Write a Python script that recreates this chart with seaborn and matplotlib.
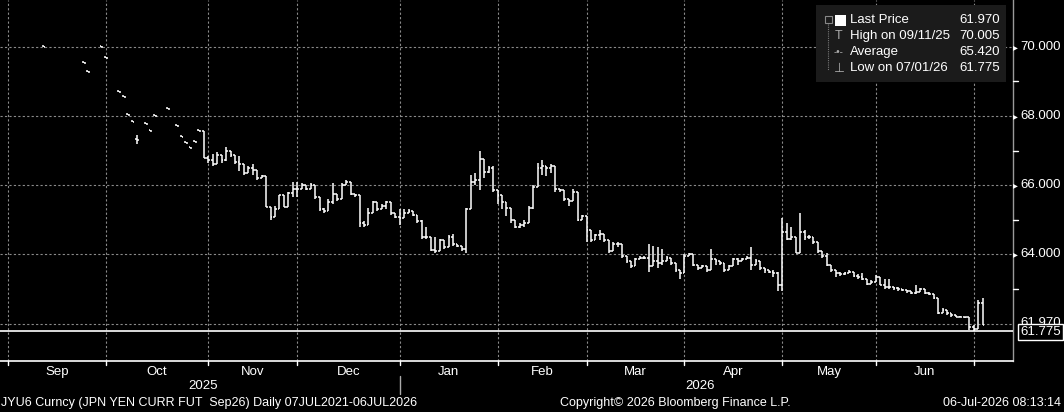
import numpy as np
import pandas as pd
import matplotlib
matplotlib.use("Agg")
import matplotlib.pyplot as plt
import seaborn as sns

nan = np.nan
# ---- data (business days Sep-2025 .. Jul-2026) ----
sep_close = [nan]*8 + [70.0] + [nan]*8 + [69.53, 69.27, nan, nan, 70.0]
oct_close = [69.67, nan, nan, 68.69, 68.54, 68.03, 67.82, 67.3, nan, 67.77, 67.56, 68.0, nan, nan,
             68.21, nan, 67.71, 67.4, 67.22, 67.07, 67.25, 67.55, 66.78]
nov_close = [66.73, 66.6, 66.87, 66.73, 67.0, 66.87, 66.67, 66.6, 66.35, 66.5, 66.45, 66.2, 66.25,
             65.37, 65.07, 65.32, 65.7, 65.38, 65.77, 65.9]
nov_high = [66.85, 66.9, 66.95, 66.8, 67.1, 66.95, 66.75, 66.85, 66.6, 66.55, 66.6, 66.3, 66.3,
            66.05, 65.3, 65.4, 65.7, 65.4, 65.8, 66.1]
nov_low = [66.65, 66.55, 66.8, 66.65, 66.7, 66.8, 66.6, 66.4, 66.3, 66.45, 66.3, 66.15, 66.2,
           65.37, 65.0, 65.3, 65.7, 65.38, 65.77, 65.65]
dec_close = [65.9, 66.0, 65.88, 66.0, 65.65, 65.3, 65.25, 65.5, 65.75, 65.6, 66.0, 66.1, 65.75, 65.7,
             64.9, 64.85, 65.2, 65.5, 65.3, 65.4, 65.5, 65.2, 65.08]
dec_high = [66.1, 66.05, 65.95, 66.05, 65.7, 65.35, 65.35, 65.6, 66.05, 65.65, 66.05, 66.15, 66.05, 65.75,
            65.7, 64.95, 65.35, 65.55, 65.45, 65.45, 65.55, 65.35, 65.1]
dec_low = [65.65, 65.95, 65.85, 65.95, 65.6, 65.25, 65.2, 65.3, 65.45, 65.55, 65.95, 66.05, 65.7, 65.65,
           64.8, 64.8, 65.1, 65.45, 65.25, 65.35, 65.3, 65.15, 65.05]
jan_close = [65.05, 65.2, 65.25, 65.15, 64.95, 64.5, 64.5, 64.13, 64.1, 64.4, 64.2, 64.5, 64.3, 64.25,
             64.15, 65.3, 66.08, 66.15, 66.75, 66.38, 66.5, 65.85]
jan_high = [65.3, 65.3, 65.3, 65.25, 65.05, 65.0, 64.8, 64.3, 64.5, 64.45, 64.4, 64.55, 64.6, 64.3,
            64.25, 65.35, 66.3, 66.35, 67.0, 66.6, 66.55, 66.55]
jan_low = [64.85, 65.15, 65.2, 65.1, 64.9, 64.45, 64.45, 64.1, 64.05, 64.35, 64.15, 64.2, 64.25, 64.2,
           64.1, 64.05, 65.7, 66.0, 65.85, 66.2, 66.35, 65.8]
feb_close = [65.7, 65.5, 65.35, 65.0, 64.8, 64.85, 64.9, 65.35, 65.95, 66.5, 66.55, 66.5, 66.55, 65.9,
             65.85, 65.6, 65.55, 65.8, 65.0, 65.1]
feb_high = [65.85, 65.55, 65.4, 65.35, 64.9, 64.9, 65.0, 65.4, 66.0, 66.65, 66.72, 66.55, 66.6, 66.4,
            65.9, 65.65, 65.6, 65.9, 65.8, 65.15]
feb_low = [65.45, 65.3, 65.1, 64.9, 64.75, 64.75, 64.8, 65.3, 65.3, 65.95, 66.3, 66.25, 66.35, 65.8,
           65.8, 65.55, 65.4, 65.7, 64.95, 65.05]
mar_close = [64.7, 64.4, 64.55, 64.6, 64.4, 64.1, 64.3, 64.3, 63.95, 63.8, 63.65, 63.85, 63.9, 63.9,
             63.65, 63.8, 63.75, 63.8, 63.9, 63.75, 63.55, 63.45]
mar_high = [64.75, 64.45, 64.6, 64.7, 64.45, 64.4, 64.35, 64.35, 64.0, 63.85, 63.75, 63.9, 63.95, 63.95,
            64.3, 64.25, 64.2, 64.15, 63.95, 63.8, 63.6, 63.55]
mar_low = [64.35, 64.35, 64.45, 64.4, 64.35, 64.05, 64.25, 64.2, 63.9, 63.75, 63.6, 63.8, 63.85, 63.85,
           63.5, 63.7, 63.6, 63.7, 63.8, 63.7, 63.5, 63.3]
apr_close = [63.95, 64.0, 63.7, 63.6, 63.65, 63.55, 63.85, 63.8, 63.75, 63.55, 63.65, 63.85, 63.8, 63.85,
             63.9, 63.7, 63.8, 63.6, 63.55, 63.5, 63.45, 63.1]
apr_high = [64.0, 64.05, 63.95, 63.7, 63.7, 63.6, 64.15, 63.85, 63.8, 63.65, 63.7, 63.9, 63.9, 63.9,
            63.95, 64.2, 63.85, 63.7, 63.6, 63.55, 63.55, 63.5]
apr_low = [63.7, 63.95, 63.65, 63.55, 63.6, 63.5, 63.55, 63.7, 63.7, 63.5, 63.55, 63.75, 63.7, 63.8,
           63.85, 63.55, 63.7, 63.55, 63.45, 63.45, 63.35, 62.95]
may_close = [64.65, 64.45, 64.5, 64.03, 64.65, 64.5, 64.5, 64.35, 64.1, 63.95, 63.7, 63.55, 63.45, 63.42,
             63.45, 63.5, 63.38, 63.35, 63.3, 63.15, 63.2]
may_high = [65.05, 64.9, 64.8, 64.45, 65.2, 64.7, 64.55, 64.45, 64.3, 64.0, 64.05, 63.65, 63.55, 63.5,
            63.5, 63.55, 63.45, 63.42, 63.45, 63.3, 63.25]
may_low = [62.95, 64.4, 64.4, 64.03, 64.03, 64.4, 64.45, 64.3, 64.05, 63.9, 63.65, 63.5, 63.35, 63.38,
           63.4, 63.45, 63.33, 63.3, 63.25, 63.1, 63.15]
jun_close = [63.35, 63.1, 63.05, 63.05, 63.03, 63.0, 62.97, 62.93, 62.88, 62.9, 63.0, 62.88, 62.85, 62.75,
             62.3, 62.4, 62.3, 62.25, 62.2, 62.2, 62.18, 61.9]
jun_high = [63.4, 63.35, 63.3, 63.3, 63.05, 63.05, 63.0, 62.97, 62.93, 63.12, 63.02, 63.0, 62.9, 62.85,
            62.75, 62.45, 62.4, 62.3, 62.25, 62.22, 62.2, 62.2]
jun_low = [63.3, 63.1, 63.0, 63.0, 62.98, 62.95, 62.93, 62.88, 62.85, 62.85, 62.95, 62.85, 62.82, 62.7,
           62.28, 62.3, 62.25, 62.2, 62.18, 62.18, 62.15, 61.8]
jul_close = [61.85, 62.6, 61.97]
jul_high = [61.95, 62.68, 62.75]
jul_low = [61.775, 61.85, 61.97]

month_names = ["Sep", "Oct", "Nov", "Dec", "Jan", "Feb", "Mar", "Apr", "May", "Jun"]
yticks = [62, 64, 66, 68, 70]
last_price, high_val, avg_val, low_val = 61.970, 70.005, 65.420, 61.775

# ---- assemble ----
closes = sep_close + oct_close + nov_close + dec_close + jan_close + feb_close + mar_close + apr_close + may_close + jun_close + jul_close
highs = sep_close + [v if v != 67.3 else 67.45 for v in oct_close] + nov_high + dec_high + jan_high + feb_high + mar_high + apr_high + may_high + jun_high + jul_high
lows = sep_close + [v if v != 67.3 else 67.2 for v in oct_close] + nov_low + dec_low + jan_low + feb_low + mar_low + apr_low + may_low + jun_low + jul_low
dates = pd.bdate_range("2025-09-01", periods=len(closes))
df = pd.DataFrame({"date": dates, "close": closes, "high": highs, "low": lows})
df["idx"] = np.arange(len(df))
sparse_end = len(sep_close) + len(oct_close) - 1
prev = df["close"].shift(1)
df["open"] = np.where(prev.notna() & (df["idx"] >= sparse_end), prev, df["close"])
df.loc[df["idx"] < sparse_end, "open"] = df["close"] + 0.03
df = df.dropna(subset=["close"])
df["high"] = df[["high", "open", "close"]].max(axis=1)
df["low"] = df[["low", "open", "close"]].min(axis=1)

sns.set_theme(style="dark", rc={"axes.facecolor": "black", "figure.facecolor": "black"})
plt.rcParams["font.family"] = ["Liberation Sans", "DejaVu Sans"]

W, H = 1064, 412
fig = plt.figure(figsize=(W / 100, H / 100), dpi=100)
ax = fig.add_axes([0, 51 / H, 1013 / W, 361 / H])
ax.set_facecolor("black")

ppu = 34.6
ax.set_ylim(70 - 314.3 / ppu, 70 + 46.7 / ppu)
px_per_bar = 4.45
ax.set_xlim(-8 / px_per_bar, (1013 - 8) / px_per_bar)

# grid
allidx = pd.Series(np.arange(len(dates)), index=dates)
month_starts = allidx.groupby([dates.year, dates.month]).min().values
for m in month_starts:
    ax.axvline(m, color="#8a8a8a", lw=0.8, ls=(0, (2, 2)), zorder=1)
for yv in yticks:
    ax.axhline(yv, color="#8a8a8a", lw=0.8, ls=(0, (2, 2)), zorder=1)

# OHLC bars
tk = 0.42
ax.vlines(df["idx"], df["low"], df["high"], color="white", lw=1.1, zorder=3)
ax.hlines(df["open"], df["idx"] - tk, df["idx"], color="white", lw=1.1, zorder=3)
ax.hlines(df["close"], df["idx"], df["idx"] + tk, color="white", lw=1.1, zorder=3)

ax.axhline(low_val, color="white", lw=1.2, zorder=4)

ax.set_xticks([]); ax.set_yticks([])
for s in ["top", "left"]:
    ax.spines[s].set_visible(False)
ax.spines["bottom"].set_color("white"); ax.spines["bottom"].set_linewidth(1.2)
ax.spines["right"].set_color("#9a9a9a"); ax.spines["right"].set_linewidth(1.0)

def fx(x): return x / W
def fy(y): return 1 - y / H
def ypix(v): return 46.7 + (70 - v) * ppu

FS = 9.5
# right axis labels
for yv in yticks[1:]:
    yp = ypix(yv)
    fig.text(fx(1013), fy(yp), "\u25B8", color="white", fontsize=7, va="center", ha="left", family=["DejaVu Sans"])
    fig.text(fx(1020), fy(yp), f"{yv:.3f}", color="white", fontsize=FS, va="center", ha="left")
for yv in [63, 65, 67, 69]:
    yp = ypix(yv)
    fig.lines.append(plt.Line2D([fx(1013), fx(1018)], [fy(yp), fy(yp)], color="white", lw=1, transform=fig.transFigure))
fig.text(fx(1020), fy(ypix(last_price) - 2), f"{last_price:.3f}", color="white", fontsize=FS, va="center", ha="left")
fig.text(fx(1020), fy(ypix(low_val) + 1), f"{low_val:.3f}", color="white", fontsize=FS, va="center", ha="left",
         bbox=dict(boxstyle="square,pad=0.15", fc="black", ec="white", lw=1))

# x axis month labels and ticks
mpos = [8 + m * px_per_bar for m in month_starts]
for i, name in enumerate(month_names):
    xc = (mpos[i] + mpos[i + 1]) / 2
    fig.text(fx(xc), fy(372), name, color="white", fontsize=FS, ha="center", va="center")
for xp in mpos:
    fig.lines.append(plt.Line2D([fx(xp), fx(xp)], [fy(361), fy(365)], color="white", lw=1, transform=fig.transFigure))
fig.text(fx(203), fy(386), "2025", color="white", fontsize=FS, ha="center", va="center")
fig.text(fx(700), fy(386), "2026", color="white", fontsize=FS, ha="center", va="center")
fig.lines.append(plt.Line2D([fx(400), fx(400)], [fy(376), fy(394)], color="#aaaaaa", lw=1, transform=fig.transFigure))

# footer
fig.text(fx(1), fy(403), "JYU6 Curncy (JPN YEN CURR FUT  Sep26) Daily 07JUL2021-06JUL2026", color="white", fontsize=9, ha="left", va="center")
fig.text(fx(675), fy(403), "Copyright\u00a9 2026 Bloomberg Finance L.P.", color="white", fontsize=9, ha="center", va="center")
fig.text(fx(1061), fy(403), "06-Jul-2026 08:13:14", color="white", fontsize=9, ha="right", va="center")

# legend box
fig.patches.append(plt.Rectangle((fx(816), fy(82)), (1006 - 816) / W, 77 / H, fc="#1b1b1b", ec="none", transform=fig.transFigure, zorder=5))
rows = [("Last Price", f"{last_price:.3f}"), ("High on 09/11/25", f"{high_val:.3f}"),
        ("Average", f"{avg_val:.3f}"), ("Low on 07/01/26", f"{low_val:.3f}")]
for i, (lab, val) in enumerate(rows):
    yy = 20 + i * 16
    fig.text(fx(850), fy(yy), lab, color="white", fontsize=FS, ha="left", va="center", zorder=6)
    fig.text(fx(1000), fy(yy), val, color="white", fontsize=FS, ha="right", va="center", zorder=6)
fig.patches.append(plt.Rectangle((fx(835), fy(26)), 11 / W, 11 / H, fc="white", ec="none", transform=fig.transFigure, zorder=6))
fig.lines.append(plt.Line2D([fx(828), fx(828)], [fy(24), fy(70)], color="#777777", lw=0.8, ls=(0, (1, 1)), transform=fig.transFigure, zorder=6))
fig.patches.append(plt.Rectangle((fx(825), fy(23)), 7 / W, 7 / H, fc="none", ec="#888888", lw=0.8, transform=fig.transFigure, zorder=6))
fig.text(fx(839), fy(36), "T", color="#aaaaaa", fontsize=9, ha="center", va="center", zorder=6)
fig.text(fx(839), fy(52), "-\u2022-", color="#aaaaaa", fontsize=7, ha="center", va="center", zorder=6)
fig.text(fx(839), fy(68), "\u22A5", color="#aaaaaa", fontsize=9, ha="center", va="center", zorder=6, family=["DejaVu Sans"])

fig.savefig("out.png", dpi=100, facecolor="black")
